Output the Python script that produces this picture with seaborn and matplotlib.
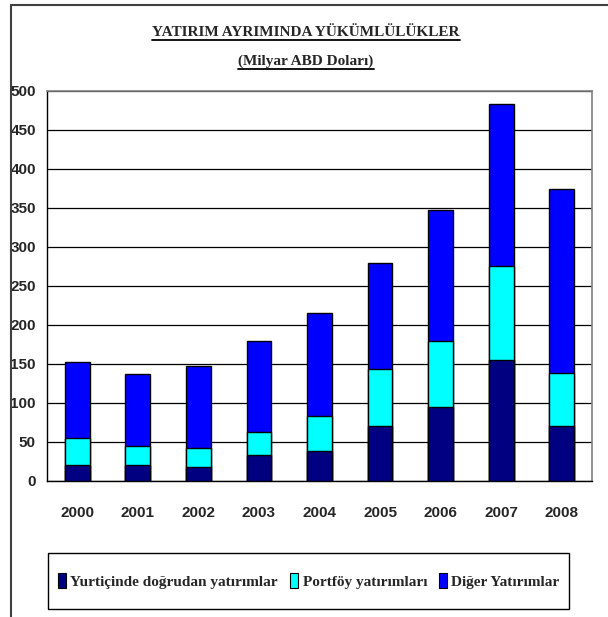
import matplotlib
matplotlib.use("Agg")
import matplotlib.pyplot as plt
import matplotlib.patches as mpatches
from matplotlib.lines import Line2D
import numpy as np
import pandas as pd
import seaborn as sns

# data (milyar ABD doları)
years = ["2000", "2001", "2002", "2003", "2004", "2005", "2006", "2007", "2008"]
dogrudan = [20, 20, 18, 33, 38, 71, 95, 155, 71]
portfoy = [35, 25, 24, 30, 45, 73, 84, 120, 68]
diger = [97, 92, 105, 116, 132, 136, 169, 208, 235]
series_names = ["Yurtiçinde doğrudan yatırımlar", "Portföy yatırımları", "Diğer Yatırımlar"]
colors = ["#000080", "#00FFFF", "#0000FF"]
yticks = [0, 50, 100, 150, 200, 250, 300, 350, 400, 450, 500]

sns.set_style("white")
narrow = ["Liberation Sans Narrow", "Liberation Sans", "DejaVu Sans"]
serif = ["Liberation Serif", "DejaVu Serif"]

df = pd.DataFrame({"year": years, "d": dogrudan, "p": portfoy, "o": diger})
df["lvl1"] = df["d"]
df["lvl2"] = df["d"] + df["p"]
df["lvl3"] = df["lvl2"] + df["o"]

fig = plt.figure(figsize=(6.08, 6.17), dpi=100)
ax = fig.add_axes([47 / 608, 1 - 481 / 617, (592 - 47) / 608, (481 - 91) / 617])

# stacked bars drawn as overlapping cumulative bars
for col, c in zip(["lvl3", "lvl2", "lvl1"], colors[::-1]):
    sns.barplot(data=df, x="year", y=col, color=c, width=0.41, edgecolor="black",
                linewidth=1.0, saturation=1, ax=ax, zorder=3)

ax.set_ylim(0, 500)
ax.set_xlim(-0.5, len(years) - 0.5)
ax.set_yticks(yticks)
ax.set_yticklabels([str(v) for v in yticks], fontfamily=narrow, fontweight="bold", fontsize=11)
ax.yaxis.grid(True, color="black", linewidth=0.9, zorder=0)
ax.set_axisbelow(True)
ax.set_xlabel("")
ax.set_ylabel("")

# x ticks at category boundaries, labels in middle
ax.set_xticks(np.arange(len(years) + 1) - 0.5)
ax.set_xticklabels([])
ax.set_xticks(np.arange(len(years)), minor=True)
ax.set_xticklabels(years, minor=True, fontfamily=narrow, fontweight="bold", fontsize=11)
ax.tick_params(axis="x", which="major", direction="out", length=5, width=1, color="black")
ax.tick_params(axis="x", which="minor", length=0, pad=18)
ax.tick_params(axis="y", direction="out", length=5, width=1, color="black", pad=3)

for s in ["left", "bottom"]:
    ax.spines[s].set_color("black")
    ax.spines[s].set_linewidth(1.0)
for s in ["top", "right"]:
    ax.spines[s].set_color("#808080")
    ax.spines[s].set_linewidth(1.2)

# titles with underline
t1 = fig.text(306 / 608, 1 - 32 / 617, "YATIRIM AYRIMINDA YÜKÜMLÜLÜKLER", ha="center", va="center",
              fontfamily=serif, fontweight="bold", fontsize=11)
t2 = fig.text(306 / 608, 1 - 61 / 617, "(Milyar ABD Doları)", ha="center", va="center",
              fontfamily=serif, fontweight="bold", fontsize=11)

# legend (frame drawn separately so padding can differ per side)
handles = [mpatches.Rectangle((0, 0), 1, 1, facecolor=c, edgecolor="black", linewidth=0.8) for c in colors]
leg = fig.legend(handles, series_names, ncol=3, loc="center",
                 bbox_to_anchor=(309 / 608, 1 - 581 / 617), frameon=False,
                 handlelength=0.5, handleheight=1.1, handletextpad=0.3,
                 columnspacing=0.8, borderpad=0.2,
                 prop={"family": serif, "weight": "bold", "size": 11})
fig.add_artist(mpatches.Rectangle((48 / 608, 1 - 609 / 617), (569 - 48) / 608, 56 / 617,
                                  transform=fig.transFigure, fill=False, edgecolor="black",
                                  linewidth=1.0))

# outer chart frame
fig.add_artist(Line2D([11 / 608, 11 / 608], [0, 1 - 5 / 617], color="#404040", linewidth=1.5))
fig.add_artist(Line2D([11 / 608, 1], [1 - 5 / 617, 1 - 5 / 617], color="#404040", linewidth=1.5))

fig.canvas.draw()
r = fig.canvas.get_renderer()
for t in [t1, t2]:
    bb = t.get_window_extent(r).transformed(fig.transFigure.inverted())
    yl = bb.y0 - 1.0 / 617
    fig.add_artist(Line2D([bb.x0, bb.x1], [yl, yl], color="black", linewidth=1.3))

fig.savefig("out.png", dpi=100)
